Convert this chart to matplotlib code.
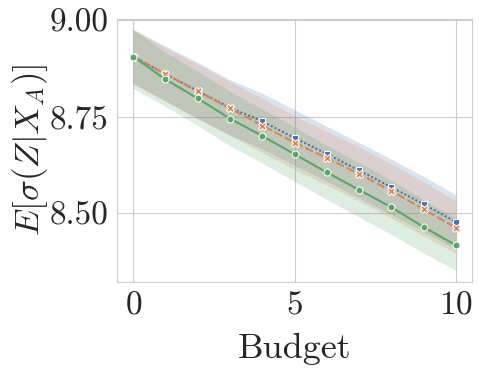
import numpy as np
import matplotlib
matplotlib.use('Agg')
import matplotlib.pyplot as plt
import seaborn as sns

budget = list(range(11))

# mean curves
blue_mean = [8.905, 8.860, 8.816, 8.773, 8.738, 8.695, 8.654, 8.611, 8.568, 8.524, 8.478]
orange_mean = [8.905, 8.860, 8.816, 8.771, 8.727, 8.683, 8.643, 8.602, 8.558, 8.511, 8.463]
green_mean = [8.905, 8.846, 8.797, 8.745, 8.700, 8.653, 8.606, 8.561, 8.516, 8.465, 8.418]

# shaded bands (lower / upper)
blue_low = [8.835, 8.790, 8.745, 8.702, 8.667, 8.624, 8.583, 8.540, 8.497, 8.453, 8.408]
blue_high = [8.975, 8.932, 8.890, 8.845, 8.810, 8.768, 8.725, 8.683, 8.640, 8.596, 8.548]
orange_low = [8.835, 8.790, 8.745, 8.701, 8.657, 8.613, 8.573, 8.532, 8.488, 8.442, 8.397]
orange_high = [8.975, 8.928, 8.886, 8.840, 8.797, 8.752, 8.712, 8.672, 8.628, 8.582, 8.532]
green_low = [8.823, 8.776, 8.727, 8.675, 8.630, 8.583, 8.536, 8.491, 8.446, 8.398, 8.353]
green_high = [8.975, 8.916, 8.867, 8.815, 8.770, 8.723, 8.676, 8.631, 8.586, 8.535, 8.488]

sns.set_style('whitegrid')
plt.rcParams['font.family'] = 'serif'
plt.rcParams['font.serif'] = ['cmr10']
plt.rcParams['mathtext.fontset'] = 'cm'
plt.rcParams['axes.formatter.use_mathtext'] = True

pal = sns.color_palette('deep')
c_blue, c_orange, c_green = pal[0], pal[1], pal[2]

fig = plt.figure(figsize=(4.79, 3.69), dpi=100)
ax = fig.add_axes([0.2443, 0.2358, 0.7411, 0.7127])

ax.fill_between(budget, blue_low, blue_high, color=c_blue, alpha=0.2, lw=0)
ax.fill_between(budget, orange_low, orange_high, color=c_orange, alpha=0.2, lw=0)
ax.fill_between(budget, green_low, green_high, color=c_green, alpha=0.2, lw=0)

ax.plot(budget, blue_mean, color=c_blue, ls=(0, (1, 1)), lw=1.5, marker='s',
        ms=5, mec='white', mew=0.75)
ax.plot(budget, orange_mean, color=c_orange, ls=(0, (4, 1.5)), lw=1.5, marker='X',
        ms=6, mec='white', mew=0.75)
ax.plot(budget, green_mean, color=c_green, ls='-', lw=1.5, marker='o',
        ms=5, mec='white', mew=0.75)

ax.set_xlim(-0.5, 10.5)
ax.set_ylim(8.323, 9.002)
ax.set_xticks([0, 5, 10])
ax.set_yticks([8.50, 8.75, 9.00])
ax.set_yticklabels(['8.50', '8.75', '9.00'])
ax.tick_params(labelsize=24, length=0, pad=6)
ax.set_xlabel('Budget', fontsize=26, labelpad=10)
ax.set_ylabel(r'$E[\sigma(Z|X_A)]$', fontsize=25, labelpad=0)

fig.savefig('out.png', dpi=100)
